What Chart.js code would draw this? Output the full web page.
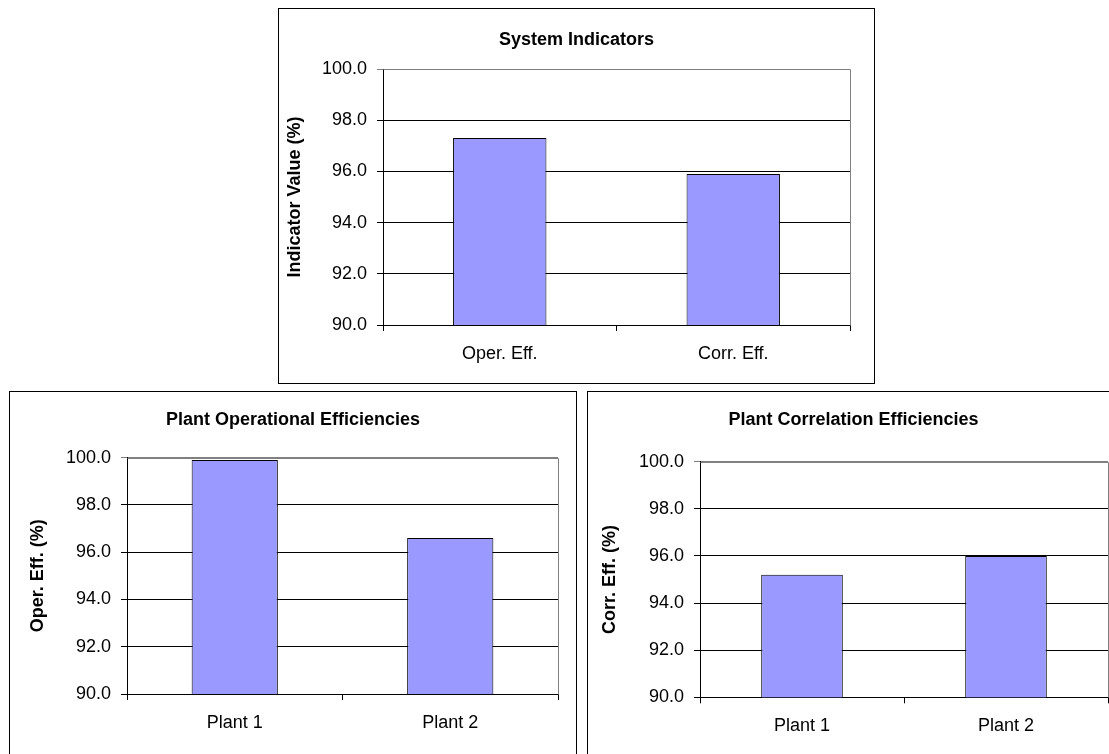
<!DOCTYPE html>
<html>
<head>
<meta charset="utf-8">
<title>Efficiency Indicators</title>
<script src="https://cdn.jsdelivr.net/npm/chart.js@4.4.1/dist/chart.umd.min.js"></script>
<style>
  html, body { margin: 0; padding: 0; background: #fff; width: 1109px; height: 754px; overflow: hidden; }
  .box { position: absolute; border: 1px solid #000; background: #fff; overflow: hidden; }
  .box canvas { display: block; }
</style>
</head>
<body>
<div class="box" style="left:278px; top:8px; width:595px; height:374px;"><canvas id="sysChart" width="595" height="374"></canvas></div>
<div class="box" style="left:9px; top:391px; width:566px; height:380px;"><canvas id="operChart" width="566" height="380"></canvas></div>
<div class="box" style="left:587px; top:391px; width:531px; height:380px;"><canvas id="corrChart" width="531" height="380"></canvas></div>

<script>
// System-wide indicators
const systemCategories = ['Oper. Eff.', 'Corr. Eff.'];
const systemValues = [97.3, 95.9];

// Per-plant efficiencies
const plantCategories = ['Plant 1', 'Plant 2'];
const plantOperValues = [99.9, 96.6];
const plantCorrValues = [95.2, 96.0];

// Value axis
const yMin = 90;
const yMax = 100;
const yStep = 2;

const FONT = '"Liberation Sans", Arial, sans-serif';
const BAR_FILL = '#9999FF';

// Gray frame on the top and right of the plot area
const plotFrame = {
  id: 'plotFrame',
  beforeDatasetsDraw(chart) {
    const { ctx, chartArea: a } = chart;
    ctx.save();
    ctx.strokeStyle = '#808080';
    ctx.lineWidth = 1;
    ctx.beginPath();
    ctx.moveTo(Math.round(a.left) + 0.5, Math.round(a.top) + 0.5);
    ctx.lineTo(Math.round(a.right) + 0.5, Math.round(a.top) + 0.5);
    ctx.lineTo(Math.round(a.right) + 0.5, Math.round(a.bottom) + 0.5);
    ctx.stroke();
    ctx.restore();
  }
};

// The same padding on both sides keeps the title centred in its frame;
// plotLeft / plotRight fix where the plot area sits inside the canvas.
function makeChart(id, cfg) {
  const canvas = document.getElementById(id);
  const side = canvas.width - cfg.plotRight;
  return new Chart(canvas, {
    type: 'bar',
    data: {
      labels: cfg.labels,
      datasets: [{
        data: cfg.values,
        backgroundColor: BAR_FILL,
        borderColor: '#000',
        borderWidth: 1,
        borderSkipped: false,
        barPercentage: 0.4,
        categoryPercentage: 1.0
      }]
    },
    options: {
      responsive: false,
      animation: false,
      events: [],
      layout: { padding: { left: side, right: side, top: 0, bottom: 0 } },
      plugins: {
        legend: { display: false },
        tooltip: { enabled: false },
        title: {
          display: true,
          text: cfg.title,
          color: '#000',
          font: { family: FONT, size: 18, weight: 'bold', lineHeight: 1.2 },
          padding: { top: cfg.titleTop, bottom: cfg.titleBottom }
        }
      },
      scales: {
        x: {
          offset: true,
          grid: { offset: true, drawOnChartArea: false, drawTicks: true, tickLength: 6, color: '#000' },
          border: { display: true, color: '#000', width: 1 },
          ticks: {
            color: '#000',
            font: { family: FONT, size: 18 },
            padding: 12,
            maxRotation: 0,
            autoSkip: false
          },
          afterFit(scale) { scale.height = cfg.xHeight; }
        },
        y: {
          min: yMin,
          max: yMax,
          grid: {
            color: (c) => (c.tick && c.tick.value === yMax ? '#808080' : '#000'),
            tickLength: 6,
            drawTicks: true
          },
          border: { display: true, color: '#000', width: 1 },
          ticks: {
            stepSize: yStep,
            color: '#000',
            padding: 10,
            font: { family: FONT, size: 18 },
            callback: (v) => Number(v).toFixed(1)
          },
          title: {
            display: true,
            text: cfg.yTitle,
            color: '#000',
            font: { family: FONT, size: 18, weight: 'bold', lineHeight: 1.2 },
            padding: { top: cfg.yTitleX - 10.8 - side, bottom: 0 }
          },
          afterFit(scale) { scale.width = cfg.plotLeft - side; }
        }
      }
    },
    plugins: [plotFrame]
  });
}

makeChart('sysChart', {
  labels: systemCategories,
  values: systemValues,
  title: 'System Indicators',
  yTitle: 'Indicator Value (%)',
  plotLeft: 104, plotRight: 571, xHeight: 58,
  titleTop: 20, titleBottom: 18.4, yTitleX: 16.4
});

makeChart('operChart', {
  labels: plantCategories,
  values: plantOperValues,
  title: 'Plant Operational Efficiencies',
  yTitle: 'Oper. Eff. (%)',
  plotLeft: 117, plotRight: 548, xHeight: 78,
  titleTop: 17, titleBottom: 27, yTitleX: 28.4
});

makeChart('corrChart', {
  labels: plantCategories,
  values: plantCorrValues,
  title: 'Plant Correlation Efficiencies',
  yTitle: 'Corr. Eff. (%)',
  plotLeft: 112, plotRight: 520, xHeight: 74.7,
  titleTop: 17, titleBottom: 31, yTitleX: 22
});
</script>
</body>
</html>
